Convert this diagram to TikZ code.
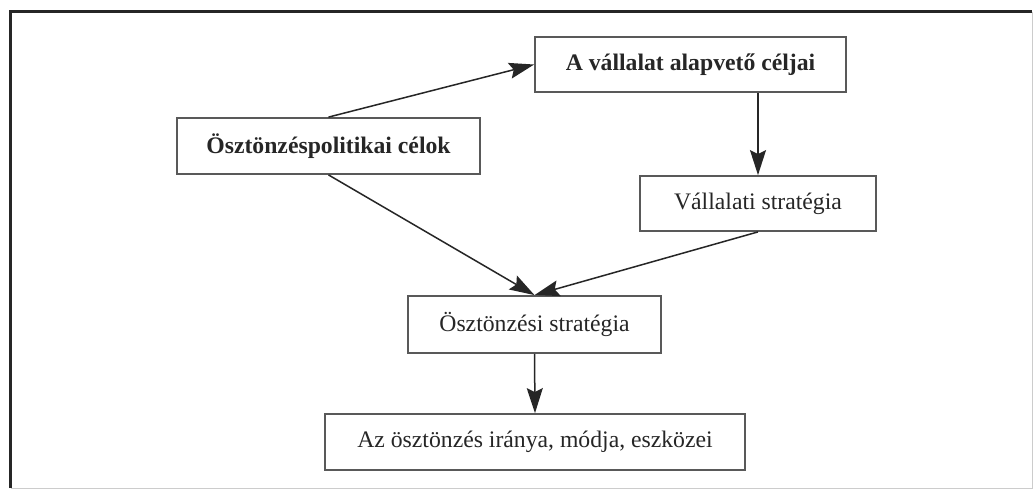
\documentclass[tikz,border=0pt]{standalone}
\usepackage{fontspec}
\setmainfont{Liberation Serif}
\usetikzlibrary{arrows.meta}
\begin{document}
\begin{tikzpicture}[x=1pt,y=-1pt,
  box/.style={draw=black!65, line width=1.8pt, inner sep=0pt, text=black!85,
    font=\fontsize{23.7}{28}\selectfont},
  link/.style={draw=black!85, line width=1.5pt,
    -{Stealth[length=25pt,width=16pt,inset=4pt]}}]
\useasboundingbox (0,0) rectangle (1034,491);
\fill[white] (0,0) rectangle (1034,491);
% outer frame
\draw[black!85, line width=3pt] (10.5,488) -- (10.5,11.5) -- (1032,11.5);
\draw[black!20, line width=1pt] (1032,11.5) -- (1032,488) -- (10.5,488);
% boxes
\node[box, font=\fontsize{23.7}{28}\selectfont\bfseries, minimum width=303pt, minimum height=56pt] (b1) at (328.5,146) {Ösztönzéspolitikai célok};
\node[box, font=\fontsize{23.7}{28}\selectfont\bfseries, minimum width=311pt, minimum height=55pt] (b2) at (690.5,64.5) {A vállalat alapvető céljai};
\node[box, minimum width=236pt, minimum height=55pt] (b3) at (758,203.5) {Vállalati stratégia};
\node[box, minimum width=253pt, minimum height=57pt] (b4) at (534.5,324.5) {Ösztönzési stratégia};
\node[box, minimum width=420pt, minimum height=56pt] (b5) at (535,442) {Az ösztönzés iránya, módja, eszközei};
% connectors
\draw[link] (b1.north) -- (b2.west);
\draw[link] (b3.north |- b2.south) -- (b3.north);
\draw[link] (b1.south) -- (b4.north);
\draw[link] (b3.south) -- (b4.north);
\draw[link] (b4.south) -- (b5.north);
\end{tikzpicture}
\end{document}
